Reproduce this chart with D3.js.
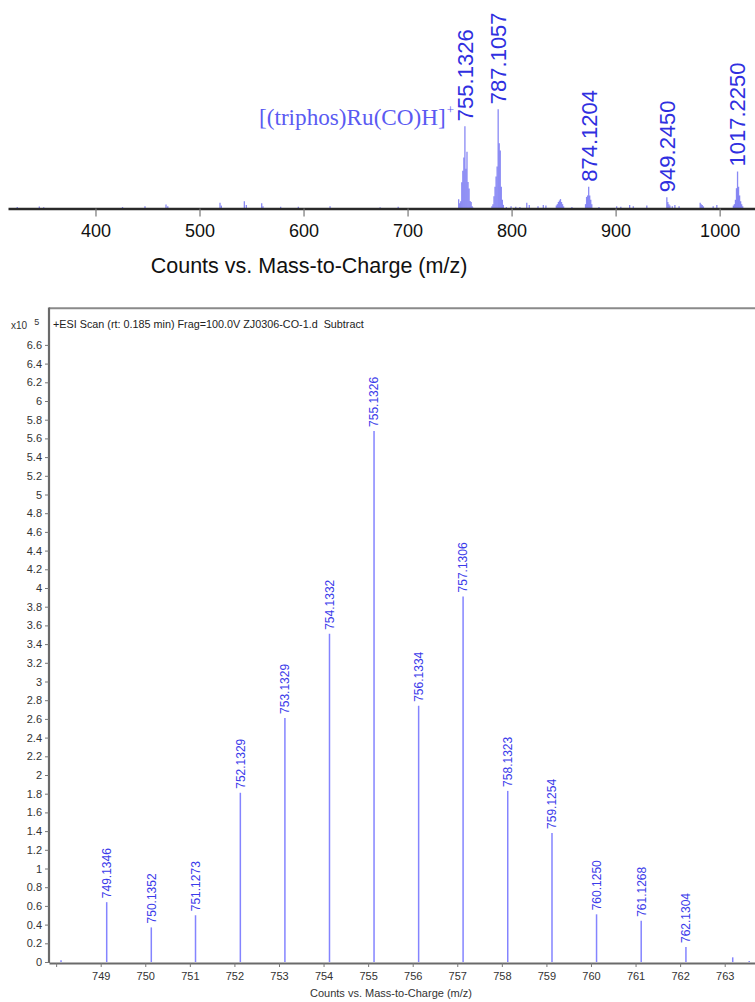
<!DOCTYPE html>
<html>
<head>
<meta charset="utf-8">
<script src="https://cdn.jsdelivr.net/npm/d3@7"></script>
<style>
  body { margin: 0; background: #fff; }
  svg { display: block; font-family: Arial, "Liberation Sans", sans-serif; }
</style>
</head>
<body>
<svg id="chart" width="755" height="1002"></svg>
<script>
// ---- Full-range spectrum (counts x10^5) ----
const overviewMz = [
  324.8, 346.0, 350.2, 426.0, 447.6, 467.8, 469.5, 519.7, 521.0, 543.1, 545.0,
  559.8, 561.0, 578.0, 595.0, 625.5, 673.6, 691.0,
  748.11, 749.1346, 750.1352, 751.1273, 752.1329, 753.1329, 754.1332, 755.1326,
  756.1334, 757.1306, 758.1323, 759.1254, 760.1250, 761.1268, 762.1304, 763.18,
  781.1, 782.1, 783.1, 784.1, 785.1, 786.1, 787.1057, 788.1, 789.1, 790.1, 791.1, 792.1,
  795.0, 799.5, 804.0, 808.0, 814.6, 817.0, 825.4, 830.5, 833.0,
  843.0, 844.0, 845.0, 846.0, 847.0, 848.0, 849.0, 850.0, 858.0,
  871.1, 872.1, 873.1, 874.1204, 875.1, 876.1, 877.1, 884.0,
  901.0, 905.0, 913.5, 917.0, 930.0,
  949.2450, 950.2, 951.2, 952.2, 954.5, 957.0, 961.0,
  981.3, 982.3, 983.3, 984.4, 993.8, 997.3,
  1013.2, 1014.2, 1015.2, 1016.2, 1017.2250, 1018.2, 1019.2, 1020.2, 1021.2, 1022.2
];
const overviewCounts = [
  0.10, 0.14, 0.08, 0.10, 0.15, 0.28, 0.15, 0.40, 0.20, 0.50, 0.25,
  0.37, 0.15, 0.12, 0.12, 0.15, 0.08, 0.12,
  0.02, 0.64, 0.37, 0.50, 1.81, 2.61, 3.51, 5.68,
  2.74, 3.91, 1.83, 1.38, 0.51, 0.44, 0.16, 0.05,
  0.15, 0.30, 0.85, 1.50, 2.20, 2.90, 6.85, 4.50, 4.00, 1.50, 0.60, 0.25,
  0.10, 0.15, 0.12, 0.10, 0.40, 0.25, 0.15, 0.25, 0.20,
  0.20, 0.30, 0.45, 0.55, 0.65, 0.45, 0.30, 0.15, 0.10,
  0.30, 0.80, 0.90, 1.50, 0.90, 0.60, 0.30, 0.10,
  0.15, 0.12, 0.25, 0.15, 0.20,
  0.78, 0.45, 0.30, 0.20, 0.15, 0.25, 0.15,
  0.40, 0.30, 0.25, 0.15, 0.15, 0.25,
  0.20, 0.30, 0.60, 1.40, 2.55, 1.50, 0.90, 0.50, 0.30, 0.15
];
const overviewLabelMz = [755.1326, 787.1057, 874.1204, 949.2450, 1017.2250];
const overviewTicks = [400, 500, 600, 700, 800, 900, 1000];
const ionName = "[(triphos)Ru(CO)H]";

// ---- Zoomed isotope cluster (counts x10^5) ----
const clusterMz = [
  748.11, 749.1346, 750.1352, 751.1273, 752.1329, 753.1329, 754.1332, 755.1326,
  756.1334, 757.1306, 758.1323, 759.1254, 760.1250, 761.1268, 762.1304, 763.18, 763.55
];
const clusterCounts = [
  0.02, 0.64, 0.37, 0.50, 1.81, 2.61, 3.51, 5.68,
  2.74, 3.91, 1.83, 1.38, 0.51, 0.44, 0.16, 0.05, 0.01
];
const clusterLabels = [
  "", "749.1346", "750.1352", "751.1273", "752.1329", "753.1329", "754.1332", "755.1326",
  "756.1334", "757.1306", "758.1323", "759.1254", "760.1250", "761.1268", "762.1304", "", ""
];
const clusterXTicks = [748, 749, 750, 751, 752, 753, 754, 755, 756, 757, 758, 759, 760, 761, 762, 763];
const clusterYTicks = [
  0, 0.2, 0.4, 0.6, 0.8, 1, 1.2, 1.4, 1.6, 1.8, 2, 2.2, 2.4, 2.6, 2.8, 3, 3.2,
  3.4, 3.6, 3.8, 4, 4.2, 4.4, 4.6, 4.8, 5, 5.2, 5.4, 5.6, 5.8, 6, 6.2, 6.4, 6.6
];
const scanTitle = "+ESI Scan (rt: 0.185 min) Frag=100.0V ZJ0306-CO-1.d  Subtract";
const axisTitle = "Counts vs. Mass-to-Charge (m/z)";

const sans = "Arial, 'Liberation Sans', sans-serif";
const serif = "'Liberation Serif', 'Times New Roman', serif";
const svg = d3.select("#chart");

// =============== Overview panel ===============
const xTop = d3.scaleLinear().domain([315.9, 1034]).range([8, 755]);
const yTop = d3.scaleLinear().domain([0, 7]).range([208.5, 107]);

const panelTop = svg.append("g");
const overview = overviewMz.map((m, i) => ({ mz: m, c: overviewCounts[i] }));

panelTop.selectAll("line.pk")
  .data(overview)
  .join("line")
  .attr("class", "pk")
  .attr("x1", d => xTop(d.mz)).attr("x2", d => xTop(d.mz))
  .attr("y1", yTop(0)).attr("y2", d => yTop(d.c))
  .attr("stroke", "#7474f2")
  .attr("stroke-opacity", 0.85)
  .attr("stroke-width", 1.3);

const topAxis = panelTop.append("g")
  .attr("transform", `translate(0,${yTop(0)})`)
  .call(d3.axisBottom(xTop).tickValues(overviewTicks).tickFormat(d3.format("d"))
    .tickSize(8).tickSizeOuter(0).tickPadding(8));
topAxis.select(".domain").attr("stroke", "#2a2a2a").attr("stroke-width", 2.4);
topAxis.selectAll(".tick line").attr("stroke", "#777").attr("stroke-width", 1.2);
topAxis.selectAll(".tick text")
  .attr("font-size", 18).attr("fill", "#111")
  .style("font-family", sans);

panelTop.append("text")
  .attr("x", 309).attr("y", 273)
  .attr("text-anchor", "middle")
  .attr("font-size", 21.5).attr("fill", "#111")
  .style("font-family", sans)
  .text(axisTitle);

// ion annotation (drawn beneath the peak labels)
const ion = panelTop.append("text")
  .attr("x", 259).attr("y", 125)
  .attr("font-size", 23.2)
  .attr("fill", "#5a5af2")
  .style("font-family", serif);
ion.append("tspan").text(ionName);
ion.append("tspan").attr("dx", 1).attr("dy", -11).attr("font-size", 13).text("+");

// labelled overview peaks
panelTop.selectAll("text.pl")
  .data(overviewLabelMz)
  .join("text")
  .attr("class", "pl")
  .attr("transform", m => {
    const i = overviewMz.indexOf(m);
    return `translate(${xTop(m)},${yTop(overviewCounts[i]) - 5}) rotate(-90)`;
  })
  .attr("dy", "0.36em")
  .attr("font-size", 22)
  .attr("fill", "#2f2fe0")
  .style("font-family", sans)
  .text(m => m.toFixed(4));

// =============== Zoomed cluster panel ===============
const xZ = d3.scaleLinear().domain([747.84, 763.68]).range([49, 755]);
const yZ = d3.scaleLinear().domain([0, 7]).range([962, 307.5]);

const panelBot = svg.append("g");

// frame top line
panelBot.append("line")
  .attr("x1", 49).attr("x2", 755).attr("y1", 308.3).attr("y2", 308.3)
  .attr("stroke", "#8a8a8a").attr("stroke-width", 2);

const cluster = clusterMz.map((m, i) => ({ mz: m, c: clusterCounts[i], label: clusterLabels[i] }));

panelBot.selectAll("line.pk")
  .data(cluster)
  .join("line")
  .attr("class", "pk")
  .attr("x1", d => xZ(d.mz)).attr("x2", d => xZ(d.mz))
  .attr("y1", yZ(0)).attr("y2", d => yZ(d.c))
  .attr("stroke", "#8484ff")
  .attr("stroke-width", 1.5);

panelBot.selectAll("text.pl")
  .data(cluster.filter(d => d.label))
  .join("text")
  .attr("class", "pl")
  .attr("transform", d => `translate(${xZ(d.mz)},${yZ(d.c) - 4}) rotate(-90)`)
  .attr("dy", "0.36em")
  .attr("font-size", 12)
  .attr("fill", "#3b3bea")
  .style("font-family", sans)
  .text(d => d.label);

// y axis
const yAxis = panelBot.append("g")
  .attr("transform", "translate(49,0)")
  .call(d3.axisLeft(yZ).tickValues(clusterYTicks).tickFormat(v => String(v))
    .tickSize(4).tickSizeOuter(0).tickPadding(3));
yAxis.select(".domain").attr("d", `M0,${yZ(0) + 1}V307.5`).attr("stroke", "#6a6a6a").attr("stroke-width", 2.2);
yAxis.selectAll(".tick line").attr("stroke", "#777");
yAxis.selectAll(".tick text")
  .attr("font-size", 11).attr("fill", "#333")
  .style("font-family", sans);

// x axis
const xAxis = panelBot.append("g")
  .attr("transform", `translate(0,${yZ(0) + 1})`)
  .call(d3.axisBottom(xZ).tickValues(clusterXTicks)
    .tickFormat(v => v === 748 ? "" : String(v)).tickSize(4).tickSizeOuter(0).tickPadding(5));
xAxis.select(".domain").attr("stroke", "#6a6a6a").attr("stroke-width", 2.2);
xAxis.selectAll(".tick line").attr("stroke", "#777");
xAxis.selectAll(".tick text")
  .attr("font-size", 11).attr("fill", "#333")
  .style("font-family", sans);

// exponent
const expo = panelBot.append("text").attr("x", 11).attr("y", 329)
  .attr("font-size", 10).attr("fill", "#333").style("font-family", sans);
expo.append("tspan").text("x10");
expo.append("tspan").attr("dx", 7).attr("dy", -4).attr("font-size", 9).text("5");

// scan header
panelBot.append("text")
  .attr("x", 53).attr("y", 328)
  .attr("font-size", 10.8).attr("fill", "#222")
  .style("font-family", sans)
  .style("white-space", "pre")
  .text(scanTitle);

panelBot.append("text")
  .attr("x", 391).attr("y", 997)
  .attr("text-anchor", "middle")
  .attr("font-size", 11).attr("fill", "#333")
  .style("font-family", sans)
  .text(axisTitle);
</script>
</body>
</html>
